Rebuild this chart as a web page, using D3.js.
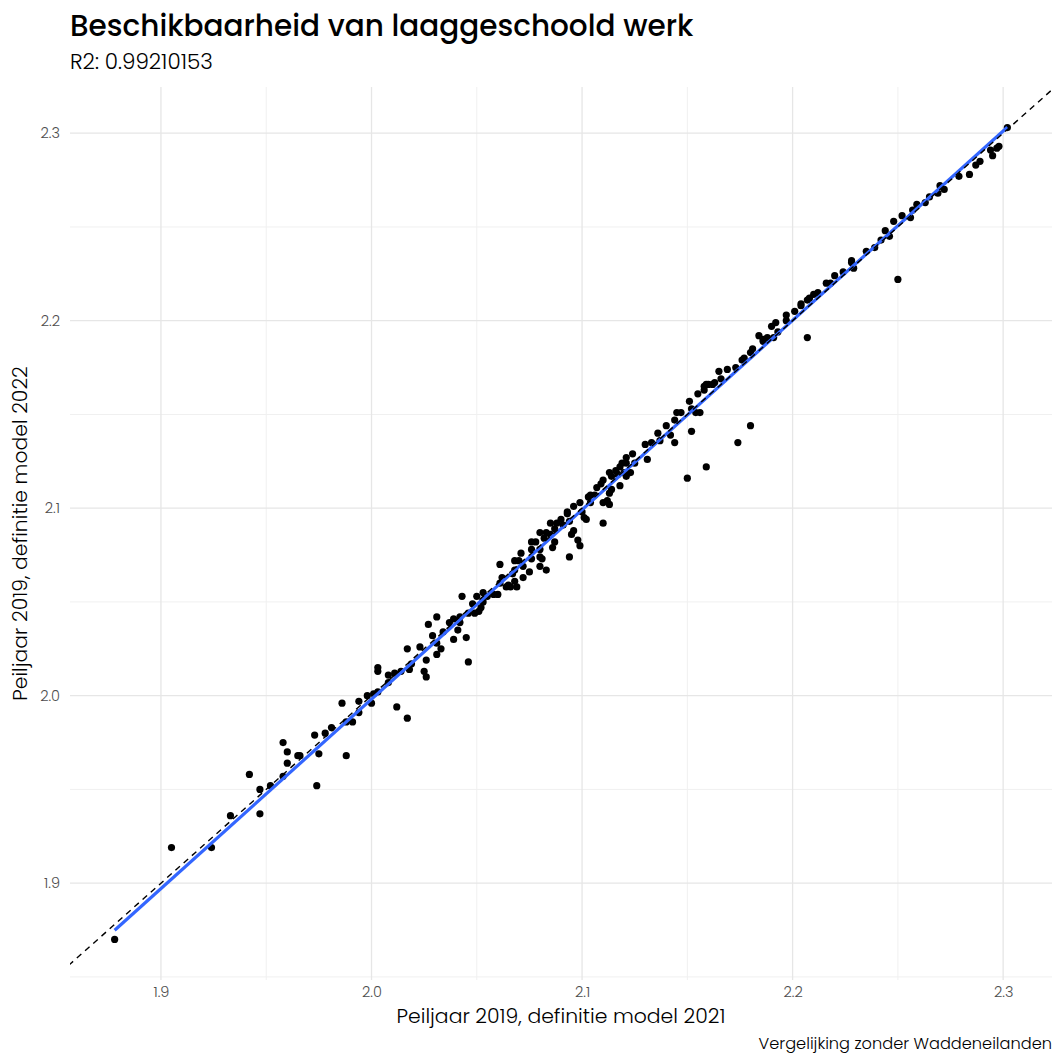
<!DOCTYPE html>
<html><head><meta charset="utf-8">
<script src="https://cdn.jsdelivr.net/npm/d3@7"></script>
<style>
html,body{margin:0;padding:0;background:#fff;}
svg{display:block;}
text{font-family:Poppins,"Open Sans",sans-serif;}
</style></head>
<body>
<script>
// ---- data ----
const titleText = "Beschikbaarheid van laaggeschoold werk";
const subtitleText = "R2: 0.99210153";
const xTitle = "Peiljaar 2019, definitie model 2021";
const yTitle = "Peiljaar 2019, definitie model 2022";
const captionText = "Vergelijking zonder Waddeneilanden";
const xTicks = [1.9, 2.0, 2.1, 2.2, 2.3];
const yTicks = [1.9, 2.0, 2.1, 2.2, 2.3];
const tickLabels = ["1.9", "2.0", "2.1", "2.2", "2.3"];

const model2021 = [
1.878,1.905,1.924,1.933,1.947,1.942,1.947,1.952,1.958,1.960,1.958,1.960,1.965,1.966,1.974,1.975,1.973,1.978,1.981,1.988,1.991,
2.043,2.050,2.031,2.027,2.037,2.039,2.042,2.029,2.034,2.039,2.041,2.045,2.046,2.017,2.023,2.026,2.031,2.033,2.031,2.025,2.026,2.018,2.019,
2.003,2.003,2.008,2.011,2.014,2.008,2.001,1.998,2.003,2.000,1.994,1.986,2.012,2.017,1.994,1.988,
2.053,2.058,2.061,2.066,2.068,2.048,2.052,2.049,2.051,
2.042,2.046,2.053,2.055,2.060,2.061,2.062,2.064,2.065,2.067,2.068,2.069,2.070,2.072,2.072,2.075,2.076,2.076,2.078,2.080,2.080,2.081,2.082,2.083,2.083,2.085,2.086,2.087,2.087,2.088,2.090,2.091,2.093,2.094,2.095,2.096,2.098,2.094,2.099,2.096,2.099,2.101,2.102,2.103,2.104,2.106,2.107,2.109,2.110,2.110,2.112,2.113,2.114,2.114,2.117,2.118,2.120,2.121,2.123,
2.076,2.080,2.085,2.093,2.104,2.100,2.118,2.121,2.068,2.071,2.080,
2.110,2.113,2.113,2.116,2.119,2.121,2.124,2.125,2.131,2.130,2.133,2.136,2.137,2.140,2.142,2.144,2.144,2.145,2.151,2.152,2.154,2.156,2.155,2.158,2.160,2.163,2.150,2.159,2.174,2.180,
2.147,2.152,2.158,2.159,2.162,2.165,2.166,2.169,2.173,2.176,2.177,2.181,2.180,2.184,2.186,2.188,2.190,2.192,2.193,2.191,2.197,2.197,2.201,2.204,2.204,2.207,2.210,2.212,2.216,2.207,
2.186,2.208,2.218,2.220,2.224,2.228,2.229,
2.228,2.235,2.239,2.242,2.244,2.246,2.248,2.252,2.256,2.257,2.259,2.263,2.265,2.269,2.270,2.272,2.250,
2.279,2.284,2.287,2.289,2.294,2.295,2.297,2.298,2.302
];
const model2022 = [
1.870,1.919,1.919,1.936,1.937,1.958,1.950,1.952,1.957,1.964,1.975,1.970,1.968,1.968,1.952,1.969,1.979,1.980,1.983,1.968,1.986,
2.053,2.053,2.042,2.038,2.039,2.041,2.039,2.032,2.034,2.030,2.035,2.031,2.018,2.025,2.026,2.019,2.022,2.025,2.028,2.013,2.010,2.014,2.017,
2.015,2.013,2.011,2.012,2.013,2.007,2.001,2.000,2.002,1.996,1.997,1.996,1.994,1.988,1.991,1.986,
2.055,2.054,2.060,2.058,2.061,2.049,2.047,2.044,2.045,
2.042,2.044,2.050,2.053,2.054,2.070,2.063,2.058,2.059,2.065,2.067,2.058,2.072,2.069,2.063,2.066,2.073,2.078,2.082,2.078,2.069,2.073,2.084,2.067,2.087,2.086,2.079,2.082,2.089,2.092,2.094,2.091,2.097,2.093,2.086,2.088,2.083,2.074,2.080,2.101,2.103,2.095,2.094,2.106,2.103,2.107,2.111,2.113,2.103,2.092,2.104,2.102,2.110,2.117,2.118,2.112,2.119,2.117,2.119,
2.082,2.087,2.092,2.098,2.107,2.098,2.122,2.124,2.072,2.076,2.074,
2.115,2.119,2.108,2.120,2.124,2.127,2.129,2.124,2.126,2.134,2.135,2.140,2.136,2.144,2.139,2.135,2.147,2.151,2.157,2.141,2.151,2.151,2.161,2.165,2.166,2.167,2.116,2.122,2.135,2.144,
2.151,2.153,2.163,2.166,2.166,2.173,2.169,2.174,2.175,2.179,2.180,2.185,2.183,2.192,2.189,2.191,2.197,2.199,2.194,2.191,2.203,2.200,2.205,2.208,2.209,2.211,2.214,2.215,2.220,2.191,
2.190,2.212,2.220,2.224,2.226,2.231,2.228,
2.232,2.237,2.239,2.243,2.248,2.245,2.253,2.256,2.255,2.259,2.262,2.263,2.266,2.268,2.272,2.270,2.222,
2.277,2.278,2.283,2.285,2.291,2.288,2.292,2.293,2.303
];
// fitted linear-model line (geom_smooth lm) endpoints
const fitX = [1.878, 2.302];
const fitY = [1.8749, 2.3032];

// ---- layout ----
const W = 1054, H = 1055;
const panel = {left: 70, right: 1052, top: 87, bottom: 980};
const points = model2021.map((x, i) => ({x, y: model2022[i]}));

const svg = d3.select("body").append("svg").attr("width", W).attr("height", H);

function expand(ext){ const r = ext[1]-ext[0]; return [ext[0]-0.05*r, ext[1]+0.05*r]; }
const xDom = expand(d3.extent(model2021));
const yDom = expand(d3.extent(model2022));
const x = d3.scaleLinear().domain(xDom).range([panel.left, panel.right]);
const y = d3.scaleLinear().domain(yDom).range([panel.bottom, panel.top]);

// grid
function minors(ticks, dom){
  const step = ticks[1]-ticks[0];
  const out = [];
  for (let v = ticks[0]-step/2; v <= dom[1]; v += step) if (v >= dom[0]) out.push(+v.toFixed(4));
  return out;
}
const grid = svg.append("g");
grid.selectAll(".vmin").data(minors(xTicks, xDom)).join("line")
  .attr("x1", d=>x(d)).attr("x2", d=>x(d)).attr("y1", panel.top).attr("y2", panel.bottom)
  .attr("stroke", "#f0f0f0").attr("stroke-width", 1);
grid.selectAll(".hmin").data(minors(yTicks, yDom)).join("line")
  .attr("y1", d=>y(d)).attr("y2", d=>y(d)).attr("x1", panel.left).attr("x2", panel.right)
  .attr("stroke", "#f0f0f0").attr("stroke-width", 1);
grid.selectAll(".vmaj").data(xTicks).join("line")
  .attr("x1", d=>x(d)).attr("x2", d=>x(d)).attr("y1", panel.top).attr("y2", panel.bottom)
  .attr("stroke", "#e6e6e6").attr("stroke-width", 1.3);
grid.selectAll(".hmaj").data(yTicks).join("line")
  .attr("y1", d=>y(d)).attr("y2", d=>y(d)).attr("x1", panel.left).attr("x2", panel.right)
  .attr("stroke", "#e6e6e6").attr("stroke-width", 1.3);

// axes (labels only)
const tickFont = 'Poppins,"Open Sans",sans-serif';
const xAxis = d3.axisBottom(x).tickValues(xTicks).tickFormat((d,i)=>tickLabels[i]).tickSize(0).tickPadding(7);
const gx = svg.append("g").attr("transform", `translate(0,${panel.bottom})`).call(xAxis);
gx.select(".domain").remove();
gx.selectAll("text").attr("fill", "#4d4d4d").style("font-size", "14.5px").style("font-weight", 300).style("font-family", tickFont);
const yAxis = d3.axisLeft(y).tickValues(yTicks).tickFormat((d,i)=>tickLabels[i]).tickSize(0).tickPadding(10);
const gy = svg.append("g").attr("transform", `translate(${panel.left},0)`).call(yAxis);
gy.select(".domain").remove();
gy.selectAll("text").attr("fill", "#4d4d4d").style("font-size", "14.5px").style("font-weight", 300).style("font-family", tickFont);

// clip
svg.append("clipPath").attr("id", "clip").append("rect")
  .attr("x", panel.left).attr("y", panel.top).attr("width", panel.right-panel.left).attr("height", panel.bottom-panel.top);
const plot = svg.append("g").attr("clip-path", "url(#clip)");

// points
plot.selectAll("circle").data(points).join("circle")
  .attr("cx", d=>x(d.x)).attr("cy", d=>y(d.y)).attr("r", 3.6).attr("fill", "#000");

// regression line
plot.append("line")
  .attr("x1", x(fitX[0])).attr("y1", y(fitY[0]))
  .attr("x2", x(fitX[1])).attr("y2", y(fitY[1]))
  .attr("stroke", "#3366FF").attr("stroke-width", 3.2);

// identity line
const lo = Math.min(xDom[0], yDom[0]), hi = Math.max(xDom[1], yDom[1]);
plot.append("line")
  .attr("x1", x(lo)).attr("y1", y(lo)).attr("x2", x(hi)).attr("y2", y(hi))
  .attr("stroke", "#000").attr("stroke-width", 1.4).attr("stroke-dasharray", "6,5");

// titles
svg.append("text").attr("x", 70).attr("y", 36).text(titleText)
  .style("font-size", "29.5px").style("font-weight", 500).attr("fill", "#000");
svg.append("text").attr("x", 70).attr("y", 69).text(subtitleText)
  .style("font-size", "21.5px").style("font-weight", 300).attr("fill", "#000");
svg.append("text").attr("x", (panel.left+panel.right)/2).attr("y", 1023).attr("text-anchor", "middle")
  .text(xTitle).style("font-size", "20.4px").style("font-weight", 300).attr("fill", "#000");
svg.append("text").attr("transform", `translate(27,${(panel.top+panel.bottom)/2}) rotate(-90)`)
  .attr("text-anchor", "middle").text(yTitle).style("font-size", "20.4px").style("font-weight", 300).attr("fill", "#000");
svg.append("text").attr("x", 1052).attr("y", 1049).attr("text-anchor", "end")
  .text(captionText).style("font-size", "16.2px").style("font-weight", 300).attr("fill", "#000");
</script>
</body></html>
